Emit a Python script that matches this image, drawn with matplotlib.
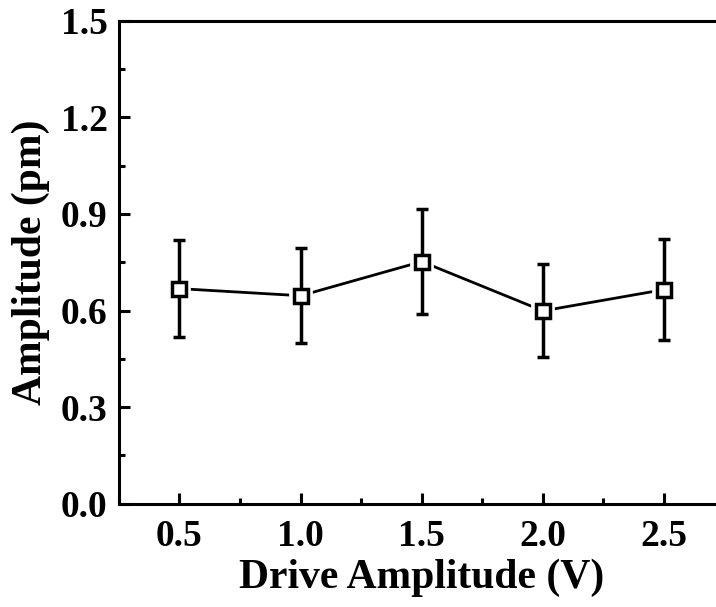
import numpy as np
import matplotlib
matplotlib.use("Agg")
import matplotlib.pyplot as plt
import matplotlib.patheffects as pe
from matplotlib.ticker import MultipleLocator

# data
drive_v = [0.5, 1.0, 1.5, 2.0, 2.5]
amp_pm = [0.668, 0.646, 0.752, 0.599, 0.665]
err_pm = [0.150, 0.148, 0.163, 0.144, 0.158]

plt.rcParams["font.family"] = ["Liberation Serif", "DejaVu Serif"]
plt.rcParams["font.weight"] = "bold"

fig = plt.figure(figsize=(7.16, 6.07), dpi=100)
ax = fig.add_axes([0.166, 0.170, 0.846, 0.796])

# connecting line, markers with white halo so the line stops short of them
ax.plot(drive_v, amp_pm, color="k", lw=2.0, zorder=1)
ax.plot(drive_v, amp_pm, ls="none", marker="s", ms=10, mfc="white", mec="white",
        mew=2.5, zorder=2,
        path_effects=[pe.withStroke(linewidth=7, foreground="white")])
ax.errorbar(drive_v, amp_pm, yerr=err_pm, fmt="none", ecolor="k", elinewidth=2.5,
            capsize=4.5, capthick=2.5, zorder=3)
ax.plot(drive_v, amp_pm, ls="none", marker="s", ms=10, mfc="white", mec="k",
        mew=2.5, zorder=4)

ax.set_xlim(0.25, 2.75)
ax.set_ylim(0.0, 1.5)
ax.xaxis.set_major_locator(MultipleLocator(0.5))
ax.xaxis.set_minor_locator(MultipleLocator(0.25))
ax.yaxis.set_major_locator(MultipleLocator(0.3))
ax.yaxis.set_minor_locator(MultipleLocator(0.15))
ax.xaxis.set_major_formatter(plt.FormatStrFormatter("%.1f"))
ax.yaxis.set_major_formatter(plt.FormatStrFormatter("%.1f"))

ax.tick_params(which="both", direction="in", top=False, right=False, width=2.2)
ax.tick_params(which="major", length=8, labelsize=27, pad=8)
ax.tick_params(axis="x", which="major", pad=11)
ax.tick_params(which="minor", length=4)
for s in ax.spines.values():
    s.set_linewidth(2.2)

ax.set_xlabel("Drive Amplitude (V)", fontsize=30, fontweight="bold", labelpad=3)
ax.set_ylabel("Amplitude (pm)", fontsize=30, fontweight="bold", labelpad=8)

fig.savefig("out.png", dpi=100)
